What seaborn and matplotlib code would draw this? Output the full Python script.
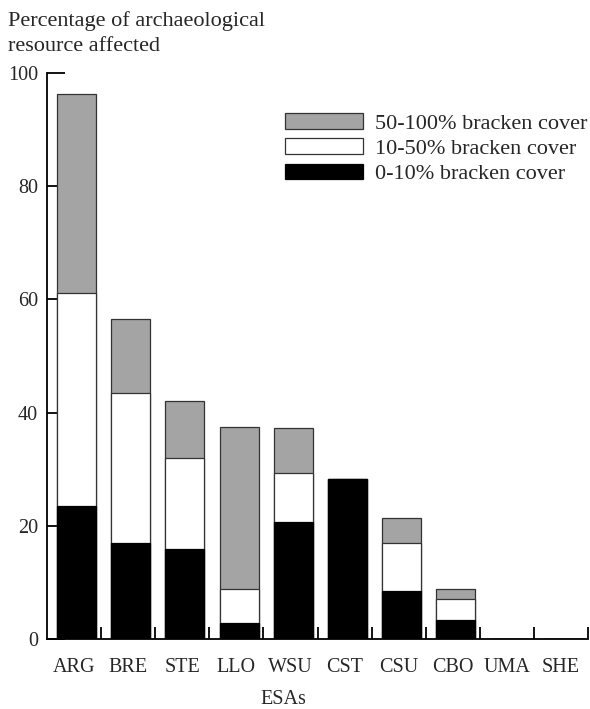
import numpy as np
import pandas as pd
import matplotlib
matplotlib.use("Agg")
import matplotlib.pyplot as plt
from matplotlib.patches import Patch
from matplotlib.ticker import FixedLocator, NullFormatter
import seaborn as sns

# Environmentally Sensitive Areas and the share of archaeological resource
# affected under each bracken-cover class (percent)
esas = ["ARG", "BRE", "STE", "LLO", "WSU", "CST", "CSU", "CBO", "UMA", "SHE"]
cover_0_10 = [23.5, 17.0, 15.9, 2.8, 20.7, 28.3, 8.5, 3.4, 0.0, 0.0]
cover_10_50 = [37.6, 26.5, 16.0, 6.0, 8.7, 0.0, 8.5, 3.7, 0.0, 0.0]
cover_50_100 = [35.2, 13.0, 10.2, 28.7, 7.8, 0.0, 4.4, 1.8, 0.0, 0.0]
legend_labels = ["50-100% bracken cover", "10-50% bracken cover", "0-10% bracken cover"]
y_ticks = [0, 20, 40, 60, 80, 100]
title_lines = ["Percentage of archaeological", "resource affected"]

df = pd.DataFrame({"ESA": esas, "low": cover_0_10, "mid": cover_10_50, "high": cover_50_100})
df["pos"] = np.arange(len(esas)) + 0.05
df["low_mid"] = df["low"] + df["mid"]
df["total"] = df["low_mid"] + df["high"]

sns.set_style("white")
plt.rcParams["font.family"] = ["Liberation Serif", "DejaVu Serif"]

FS_TICK = 14.5
FS_TEXT = 16
GREY = "#a4a4a4"

W, H = 590, 709
fig = plt.figure(figsize=(W / 100, H / 100), dpi=100)
ax = fig.add_axes([47 / W, 1 - 639 / H, 541 / W, (639 - 73) / H])

bw = 0.72
# layered bars: full stack in grey, lower two classes in white, lowest in black
sns.barplot(data=df, x="pos", y="total", native_scale=True, width=bw, color=GREY,
            saturation=1, edgecolor="#333333", linewidth=0.9, ax=ax)
sns.barplot(data=df, x="pos", y="low_mid", native_scale=True, width=bw, color="white",
            saturation=1, edgecolor="#333333", linewidth=0.9, ax=ax)
sns.barplot(data=df, x="pos", y="low", native_scale=True, width=bw, color="black",
            saturation=1, edgecolor="black", linewidth=0.9, ax=ax)

ax.set_xlim(-0.5, len(esas) - 0.5)
ax.set_ylim(0, 100)

# axes frame: left and bottom lines only
for side in ["top", "right"]:
    ax.spines[side].set_visible(False)
for side in ["left", "bottom"]:
    ax.spines[side].set_visible(True)
    ax.spines[side].set_color("black")
    ax.spines[side].set_linewidth(1.3)

ax.set_yticks(y_ticks)
ax.set_yticklabels([str(v) for v in y_ticks], fontsize=FS_TICK)
ax.tick_params(axis="y", direction="in", length=13, width=1.3, color="black", pad=6.5, left=True)

ax.set_xticks(np.arange(len(esas)))
ax.set_xticklabels(esas, fontsize=FS_TICK)
ax.tick_params(axis="x", which="major", length=0, pad=14)
ax.xaxis.set_minor_locator(FixedLocator(np.arange(len(esas)) + 0.5))
ax.xaxis.set_minor_formatter(NullFormatter())
ax.tick_params(axis="x", which="minor", direction="in", length=9, width=1.3, color="black", bottom=True)

ax.set_xlabel("ESAs", fontsize=FS_TICK)
ax.xaxis.set_label_coords((283 - 47) / 541, -0.09)
ax.set_ylabel("")

# two-line axis caption above the y axis
for line, base in zip(title_lines, [26, 51]):
    fig.text(8 / W, 1 - base / H, line, fontsize=FS_TEXT, ha="left", va="baseline")

handles = [Patch(facecolor=GREY, edgecolor="#333333", linewidth=0.9),
           Patch(facecolor="white", edgecolor="#333333", linewidth=0.9),
           Patch(facecolor="black", edgecolor="black", linewidth=0.9)]
ax.legend(handles, legend_labels, loc="upper left", bbox_to_anchor=((285 - 47) / 541, 1 - (113 - 73) / 566),
          frameon=False, fontsize=FS_TEXT, handlelength=3.5, handleheight=0.7,
          handletextpad=0.55, labelspacing=0.22, borderpad=0, borderaxespad=0)

fig.savefig("out.png", dpi=100)
